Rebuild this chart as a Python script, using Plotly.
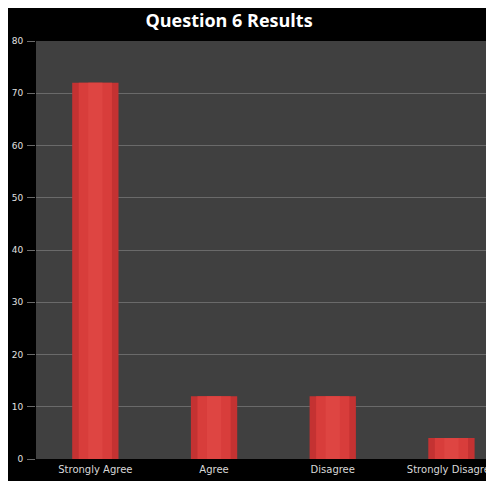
import plotly.graph_objects as go

categories = ["Strongly Agree", "Agree", "Disagree", "Strongly Disagree"]
values = [72, 12, 12, 4]
y_ticks = [0, 10, 20, 30, 40, 50, 60, 70, 80]

W, H = 486, 473
ML, MR, MT, MB = 28, 0, 33, 22
PW, PH = W - ML - MR, H - MT - MB
CAT_PX = 118.7

fig = go.Figure()
fig.add_trace(go.Bar(x=categories, y=values, width=0.39,
                     marker=dict(color="#c43232", line=dict(width=0)),
                     hoverinfo="skip", showlegend=False))
fig.add_trace(go.Bar(x=categories, y=values, width=0.28,
                     marker=dict(color="#d83d3b", line=dict(width=0)),
                     showlegend=False))
fig.add_trace(go.Bar(x=categories, y=values, width=0.12,
                     marker=dict(color="#de4542", line=dict(width=0)),
                     hoverinfo="skip", showlegend=False))

fig.update_layout(
    width=W, height=H,
    margin=dict(l=ML, r=MR, t=MT, b=MB, pad=0),
    paper_bgcolor="black",
    plot_bgcolor="#404040",
    barmode="overlay",
    title=dict(text="<b>Question 6 Results</b>", x=(221 - ML) / PW, xref="paper",
               xanchor="center", y=1 - 12.5 / H, yref="container", yanchor="middle",
               font=dict(family="Open Sans", size=18, color="white")),
    font=dict(family="DejaVu Sans", color="#d8d8d8"),
)
fig.update_xaxes(range=[-0.5, -0.5 + PW / CAT_PX], showgrid=False, zeroline=False,
                 showline=False, ticks="", tickfont=dict(family="DejaVu Sans", size=10, color="#d8d8d8"),
                 ticklabelstandoff=3, automargin=False, fixedrange=True)
fig.update_yaxes(range=[0, 80], tickvals=y_ticks, showgrid=True, gridcolor="#6a6a6a",
                 gridwidth=1, zeroline=False, showline=False, ticks="outside",
                 ticklen=8, tickcolor="#6a6a6a", tickfont=dict(family="DejaVu Sans", size=9, color="#e0e0e0"),
                 ticklabelstandoff=2, automargin=False, fixedrange=True)

fig.write_html("out.html")
